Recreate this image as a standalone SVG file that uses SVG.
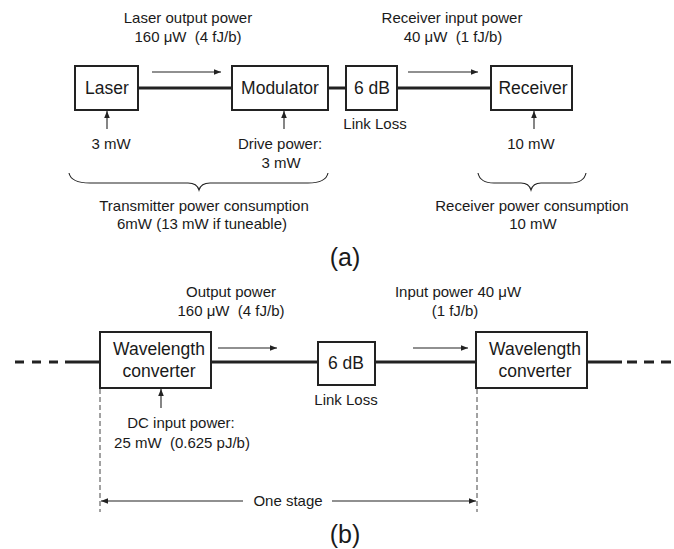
<svg xmlns="http://www.w3.org/2000/svg" width="674" height="549" viewBox="0 0 674 549">
<style>
text{font-family:"Liberation Sans",Arial,sans-serif;fill:#1a1a1a;text-anchor:middle;white-space:pre}
.t{font-size:15px}
.b{font-size:17.5px}
.cap{font-size:25px}
.box{fill:#fff;stroke:#222;stroke-width:2}
.main{stroke:#222;stroke-width:3;fill:none}
.thin{stroke:#222;stroke-width:1.1;fill:none}
.arr{stroke:#222;stroke-width:1.1;fill:none;marker-end:url(#ah)}
.dash{stroke:#444;stroke-width:1;stroke-dasharray:5 3;fill:none}
</style>
<defs>
<marker id="ah" viewBox="0 0 10 10" refX="10" refY="5" markerWidth="7" markerHeight="7" markerUnits="userSpaceOnUse" orient="auto-start-reverse">
<path d="M0,1 L10,5 L0,9 Z" fill="#222"/>
</marker>
</defs>
<rect width="674" height="549" fill="#fff"/>
<g id="connectors">
<line class="main" x1="138" y1="88" x2="232" y2="88"/>
<line class="main" x1="328" y1="88" x2="346" y2="88"/>
<line class="main" x1="397" y1="88" x2="491" y2="88"/>
<line class="arr" x1="152" y1="72" x2="221" y2="72"/>
<line class="arr" x1="408" y1="72" x2="478" y2="72"/>
<line class="arr" x1="107" y1="129" x2="107" y2="111"/>
<line class="arr" x1="284" y1="129" x2="284" y2="111"/>
<line class="arr" x1="534" y1="129" x2="534" y2="111"/>
<path class="thin" d="M69,173 Q71,183 90,183 L188,183 Q197,183 199,190 Q201,183 210,183 L308,183 Q326,183 328,173"/>
<path class="thin" d="M478,173 Q480,183 494,183 L521,183 Q529,183 531,190 Q533,183 541,183 L570,183 Q584,183 586,173"/>
<line class="main" x1="15" y1="362" x2="65" y2="362" stroke-dasharray="9 8"/>
<line class="main" x1="65" y1="362" x2="100" y2="362"/>
<line class="main" x1="211" y1="362" x2="318" y2="362"/>
<line class="main" x1="375" y1="362" x2="476" y2="362"/>
<line class="main" x1="587" y1="362" x2="622" y2="362"/>
<line class="main" x1="627" y1="362" x2="672" y2="362" stroke-dasharray="10 7"/>
<line class="arr" x1="218" y1="348" x2="277" y2="348"/>
<line class="arr" x1="413" y1="348" x2="468" y2="348"/>
<line class="arr" x1="161" y1="408" x2="161" y2="389"/>
<line class="dash" x1="100" y1="389" x2="100" y2="512"/>
<line class="dash" x1="477" y1="389" x2="477" y2="512"/>
<line class="arr" x1="243" y1="501" x2="101" y2="501"/>
<line class="arr" x1="332" y1="501" x2="476" y2="501"/>
</g>
<g id="laser"><rect class="box" x="75" y="66" width="63" height="44"/><text class="b" x="107" y="94">Laser</text></g>
<g id="modulator"><rect class="box" x="232" y="66" width="96" height="44"/><text class="b" x="280" y="94">Modulator</text></g>
<g id="loss-a"><rect class="box" x="346" y="66" width="51" height="44"/><text class="b" x="372" y="94">6 dB</text></g>
<g id="receiver"><rect class="box" x="491" y="66" width="81" height="44"/><text class="b" x="533" y="94">Receiver</text></g>
<g id="labels-a">
<text class="t" x="188" y="23">Laser output power</text>
<text class="t" x="188" y="42">160 μW  (4 fJ/b)</text>
<text class="t" x="452" y="23">Receiver input power</text>
<text class="t" x="453" y="42">40 μW  (1 fJ/b)</text>
<text class="t" x="111" y="149">3 mW</text>
<text class="t" x="280" y="149">Drive power:</text>
<text class="t" x="281" y="168">3 mW</text>
<text class="t" x="375" y="129">Link Loss</text>
<text class="t" x="531" y="149">10 mW</text>
<text class="t" x="204" y="211">Transmitter power consumption</text>
<text class="t" x="202" y="229">6mW (13 mW if tuneable)</text>
<text class="t" x="532" y="211">Receiver power consumption</text>
<text class="t" x="533" y="229">10 mW</text>
<text class="cap" x="345" y="266">(a)</text>
</g>
<g id="wc-left"><rect class="box" x="100" y="332" width="111" height="56"/><text class="b" x="159" y="355">Wavelength</text><text class="b" x="159" y="377">converter</text></g>
<g id="loss-b"><rect class="box" x="318" y="342" width="57" height="43"/><text class="b" x="346" y="369">6 dB</text></g>
<g id="wc-right"><rect class="box" x="476" y="332" width="111" height="56"/><text class="b" x="535" y="355">Wavelength</text><text class="b" x="535" y="377">converter</text></g>
<g id="labels-b">
<text class="t" x="231" y="297">Output power</text>
<text class="t" x="231" y="316">160 μW  (4 fJ/b)</text>
<text class="t" x="458" y="297">Input power 40 μW</text>
<text class="t" x="455" y="316">(1 fJ/b)</text>
<text class="t" x="346" y="405">Link Loss</text>
<text class="t" x="181" y="428">DC input power:</text>
<text class="t" x="182" y="448">25 mW  (0.625 pJ/b)</text>
<text class="t" x="288" y="506">One stage</text>
<text class="cap" x="345" y="543">(b)</text>
</g>
</svg>
